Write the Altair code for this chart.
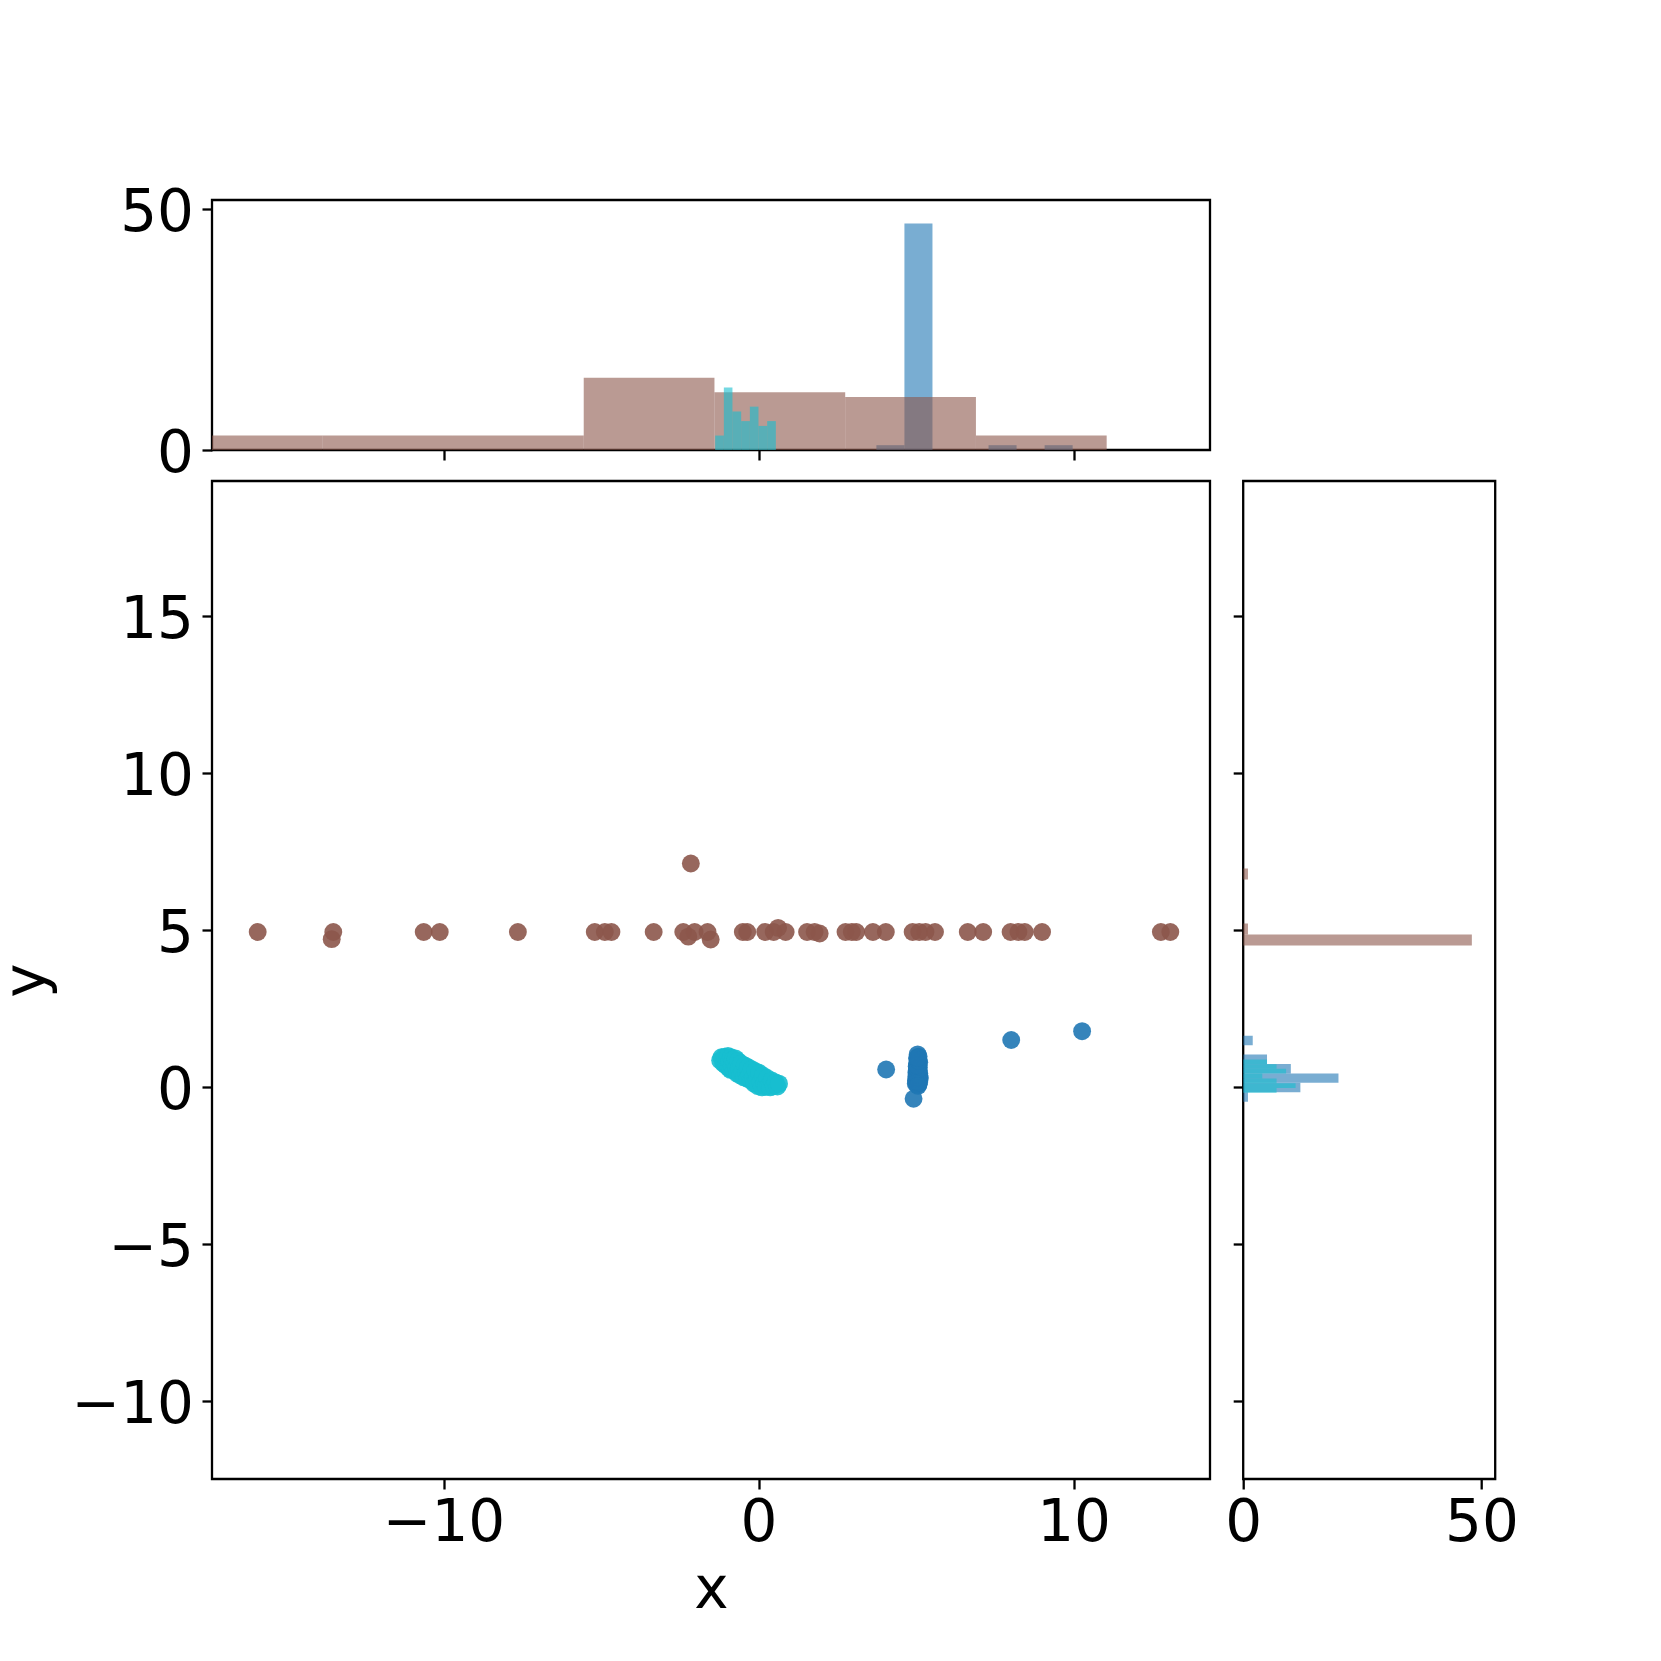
import altair as alt
import pandas as pd

# ---------------- scatter data ----------------
brown_x = [-15.9, -13.5, -13.55, -10.63, -10.12, -7.64, -5.2, -4.88, -4.67, -3.33,
           -2.39, -2.23, -2.03, -2.15, -1.52, -1.62, -0.5, -0.36, 0.21, 0.48,
           0.62, 0.86, 1.54, 1.78, 1.94, 2.76, 2.96, 3.1, 3.63, 4.04,
           4.89, 5.1, 5.3, 5.6, 6.64, 7.13, 8.0, 8.25, 8.45, 9.0,
           12.77, 13.07]
brown_y = [4.95, 4.95, 4.72, 4.95, 4.95, 4.95, 4.95, 4.95, 4.95, 4.95,
           4.95, 4.80, 4.95, 7.13, 4.71, 4.95, 4.95, 4.95, 4.95, 4.95,
           5.08, 4.95, 4.95, 4.95, 4.90, 4.95, 4.95, 4.95, 4.95, 4.95,
           4.95, 4.95, 4.95, 4.95, 4.95, 4.95, 4.95, 4.95, 4.95, 4.95,
           4.95, 4.95]

cyan_x = [-1.22, -1.18, -1.12, -1.08, -1.04, -1.00,
          -0.97, -0.95, -0.92, -0.89, -0.87, -0.85, -0.82, -0.79, -0.76, -0.73, -0.71,
          -0.68, -0.65, -0.62, -0.58, -0.55, -0.51, -0.47, -0.44, -0.40, -0.36, -0.33,
          -0.29, -0.25, -0.22, -0.18, -0.14, -0.10, -0.06, -0.02, 0.02, 0.06, 0.10,
          0.14, 0.18, 0.23, 0.27, 0.32, 0.37, 0.42, 0.48, 0.54, 0.60, 0.65]
cyan_y = [0.86, 0.96, 0.76, 0.98, 0.70, 0.92,
          1.00, 0.62, 0.84, 0.56, 0.96, 0.70, 0.88, 0.54, 0.78, 0.92, 0.60,
          0.44, 0.84, 0.60, 0.38, 0.76, 0.50, 0.32, 0.70, 0.46, 0.28, 0.64,
          0.40, 0.22, 0.58, 0.30, 0.12, 0.52, 0.24, 0.04, 0.46, 0.18, 0.00,
          0.38, 0.12, 0.02, 0.30, 0.06, 0.00, 0.22, 0.04, 0.16, 0.03, 0.12]

blue_x = [5.05, 5.08, 5.03, 5.06, 5.10, 5.04, 5.07, 5.02, 5.09, 5.05,
          5.03, 5.08, 5.06, 5.01, 5.10, 5.04, 5.07, 5.05, 5.02, 5.09,
          5.06, 5.03, 5.08, 5.05, 5.01, 5.07, 5.04, 5.10, 5.02, 5.06,
          5.03, 5.08, 5.00, 5.12, 5.05, 5.02, 5.09, 5.04, 5.07, 5.01,
          5.06, 5.03, 5.08, 5.05, 4.99, 5.06,
          4.05, 4.92, 8.02, 10.27]
blue_y = [1.05, 0.98, 0.92, 0.86, 0.80, 0.76, 0.71, 0.67, 0.63, 0.60,
          0.56, 0.53, 0.50, 0.47, 0.45, 0.42, 0.40, 0.37, 0.35, 0.33,
          0.31, 0.29, 0.27, 0.25, 0.23, 0.21, 0.19, 0.17, 0.15, 0.13,
          0.11, 0.10, 0.20, 0.30, 0.44, 0.52, 0.39, 0.28, 0.16, 0.33,
          0.58, 0.70, 0.85, 0.95, 0.12, 0.05,
          0.57, -0.36, 1.51, 1.79]

# ---------------- top (x) histogram ----------------
top_blue_edges = [3.74, 4.63, 5.52, 6.41, 7.30, 8.19, 9.08, 9.97]
top_blue_counts = [1, 47, 0, 0, 1, 0, 1]
top_brown_edges = [-18.0, -13.85, -9.7, -5.55, -1.4, 2.75, 6.9, 11.05]
top_brown_counts = [3, 3, 3, 15, 12, 11, 3]
top_cyan_edges = [-1.378, -1.102, -0.829, -0.552, -0.276, -0.003, 0.273, 0.549]
top_cyan_counts = [3, 13, 8, 6, 9, 5, 6]

# ---------------- right (y) histogram ----------------
right_blue_edges = [-0.455, -0.155, 0.145, 0.445, 0.745, 1.045, 1.345, 1.645]
right_blue_counts = [1, 12, 20, 10, 5, 0, 2]
right_brown_edges = [4.52, 4.87, 5.22, 5.57, 5.92, 6.27, 6.62, 6.97]
right_brown_counts = [48, 1, 0, 0, 0, 0, 1]
right_cyan_edges = [-0.17, -0.02, 0.13, 0.28, 0.44, 0.59, 0.74, 0.89]
right_cyan_counts = [7, 11, 7, 4, 9, 7, 5]

GROUPS = ["blue", "brown", "cyan"]
COLORS = ["#1f77b4", "#8c564b", "#17becf"]
FONT = "DejaVu Sans"
FS = 58
X_DOMAIN = [-17.35, 14.33]
Y_DOMAIN = [-12.47, 19.31]


def hist_rows(edges, counts, group):
    rows = []
    for i, c in enumerate(counts):
        if c > 0:
            rows.append({"lo": edges[i], "hi": edges[i + 1], "count": c, "base": 0, "group": group})
    return rows


top_df = pd.DataFrame(
    hist_rows(top_blue_edges, top_blue_counts, "blue")
    + hist_rows(top_brown_edges, top_brown_counts, "brown")
    + hist_rows(top_cyan_edges, top_cyan_counts, "cyan")
)
right_df = pd.DataFrame(
    hist_rows(right_blue_edges, right_blue_counts, "blue")
    + hist_rows(right_brown_edges, right_brown_counts, "brown")
    + hist_rows(right_cyan_edges, right_cyan_counts, "cyan")
)
scatter_df = pd.concat([
    pd.DataFrame({"x": brown_x, "y": brown_y, "group": "brown"}),
    pd.DataFrame({"x": cyan_x, "y": cyan_y, "group": "cyan"}),
    pd.DataFrame({"x": blue_x, "y": blue_y, "group": "blue"}),
], ignore_index=True)

color = alt.Color("group:N", scale=alt.Scale(domain=GROUPS, range=COLORS), legend=None)

scatter = alt.Chart(scatter_df).mark_circle(size=320, opacity=0.9).encode(
    x=alt.X("x:Q", scale=alt.Scale(domain=X_DOMAIN, nice=False, zero=False),
            axis=alt.Axis(values=[-10, 0, 10], title="x")),
    y=alt.Y("y:Q", scale=alt.Scale(domain=Y_DOMAIN, nice=False, zero=False),
            axis=alt.Axis(values=[-10, -5, 0, 5, 10, 15], title="y")),
    color=color,
).properties(width=998, height=998)

top = alt.Chart(top_df).mark_rect(opacity=0.6, clip=True).encode(
    x=alt.X("lo:Q", scale=alt.Scale(domain=X_DOMAIN, nice=False, zero=False),
            axis=alt.Axis(values=[-10, 0, 10], labels=False, title=None)),
    x2="hi:Q",
    y=alt.Y("count:Q", scale=alt.Scale(domain=[0, 51.9], nice=False),
            axis=alt.Axis(values=[0, 50], title=None)),
    y2="base:Q",
    color=color,
).properties(width=998, height=250)

right = alt.Chart(right_df).mark_rect(opacity=0.6, clip=True).encode(
    y=alt.Y("lo:Q", scale=alt.Scale(domain=Y_DOMAIN, nice=False, zero=False),
            axis=alt.Axis(values=[-10, -5, 0, 5, 10, 15], labels=False, title=None)),
    y2="hi:Q",
    x=alt.X("count:Q", scale=alt.Scale(domain=[0, 52.9], nice=False),
            axis=alt.Axis(values=[0, 50], title=None)),
    x2="base:Q",
    color=color,
).properties(width=252, height=998)

blank = alt.Chart(pd.DataFrame({"v": [0]})).mark_point(opacity=0).encode(
    x=alt.X("v:Q", axis=None),
    y=alt.Y("v:Q", axis=None),
).properties(width=252, height=250, view=alt.ViewBackground(strokeOpacity=0))

chart = alt.concat(
    top, blank, scatter, right, columns=2, bounds="flush",
    spacing={"row": 31.0, "column": 33.2}
).properties(
    padding={"left": -11, "top": 175, "right": 10, "bottom": 10},
    background="white",
).configure_view(
    stroke="black", strokeWidth=2.3
).configure_axis(
    labelFont=FONT, titleFont=FONT, labelFontSize=FS, titleFontSize=FS,
    titleFontWeight="normal", labelColor="black", titleColor="black",
    tickColor="black", tickWidth=2.3, tickSize=10, labelPadding=8.5,
    domain=False, grid=False, labelFlush=False, labelOverlap=False,
).configure_axisY(
    labelOffset=4.5, titlePadding=14.7
).configure_axisX(
    labelPadding=5.5, titlePadding=8.7
)

chart.save("out.html", embed_options={"renderer": "svg", "actions": False})
